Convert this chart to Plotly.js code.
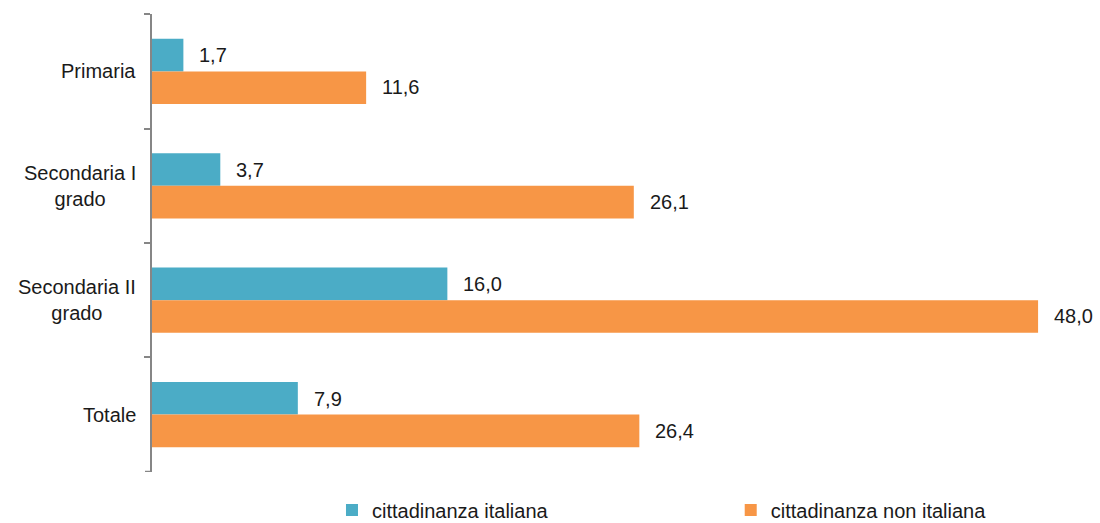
<!DOCTYPE html>
<html>
<head>
<meta charset="utf-8">
<script src="https://cdn.plot.ly/plotly-3.0.1.min.js"></script>
<style>html,body{margin:0;padding:0;background:#fff;}#chart{width:1100px;height:523px;}</style>
</head>
<body>
<div id="chart"></div>
<script>
const categories = ["Primaria", "Secondaria I<br>grado", "Secondaria II<br>grado", "Totale"];
const italiana = [1.7, 3.7, 16.0, 7.9];
const nonItaliana = [11.6, 26.1, 48.0, 26.4];
const seriesNames = ["cittadinanza italiana", "cittadinanza non italiana"];
const colors = ["#4BACC6", "#F79646"];

const FONT = "Liberation Sans, Arial, sans-serif";
const fmt = v => v.toFixed(1).replace(".", ",");

const traces = [italiana, nonItaliana].map((vals, i) => ({
  type: "bar",
  orientation: "h",
  name: seriesNames[i],
  x: vals,
  y: categories,
  marker: {color: colors[i]},
  legend: i === 0 ? "legend" : "legend2",
  hoverinfo: "x"
}));

const annotations = [];
[italiana, nonItaliana].forEach((vals, i) => {
  vals.forEach((v, j) => {
    annotations.push({
      x: v, y: categories[j], xref: "x", yref: "y",
      text: fmt(v), showarrow: false, xanchor: "left",
      xshift: 14, yshift: i === 0 ? 16 : -16,
      font: {family: FONT, size: 20, color: "#1a1a1a"}
    });
  });
});
categories.forEach(c => {
  annotations.push({
    x: 0, y: c, xref: "paper", yref: "y",
    text: c, showarrow: false, xanchor: "right", align: "center",
    xshift: -14,
    font: {family: FONT, size: 20, color: "#1a1a1a"}
  });
});

const legendCommon = {
  orientation: "h", yanchor: "middle", xanchor: "left",
  y: -0.083, itemwidth: 30,
  font: {family: FONT, size: 20, color: "#1a1a1a"},
  bgcolor: "rgba(0,0,0,0)"
};

const layout = {
  width: 1100, height: 523,
  margin: {l: 152, r: 25, t: 14, b: 51, autoexpand: false},
  paper_bgcolor: "#fff", plot_bgcolor: "#fff",
  barmode: "group",
  bargap: 0.43,
  bargroupgap: 0,
  font: {family: FONT, size: 20, color: "#1a1a1a"},
  xaxis: {range: [0, 50], visible: false, showgrid: false, zeroline: false, fixedrange: true},
  yaxis: {
    type: "category",
    range: [3.502, -0.502],
    showline: true, linecolor: "#868686", linewidth: 2,
    ticks: "outside", tickson: "boundaries", ticklen: 6, tickcolor: "#868686", tickwidth: 2,
    showgrid: false, zeroline: false,
    showticklabels: false
  },
  shapes: [{
    type: "line", xref: "paper", yref: "y", xsizemode: "pixel", xanchor: 0,
    x0: -7, x1: 0, y0: categories.length - 0.5, y1: categories.length - 0.5,
    line: {color: "#868686", width: 2}
  }],
  showlegend: true,
  legend: Object.assign({}, legendCommon, {x: 0.195}),
  legend2: Object.assign({}, legendCommon, {x: 0.627}),
  annotations: annotations
};

Plotly.newPlot("chart", traces, layout, {displayModeBar: false, staticPlot: true});
</script>
</body>
</html>
